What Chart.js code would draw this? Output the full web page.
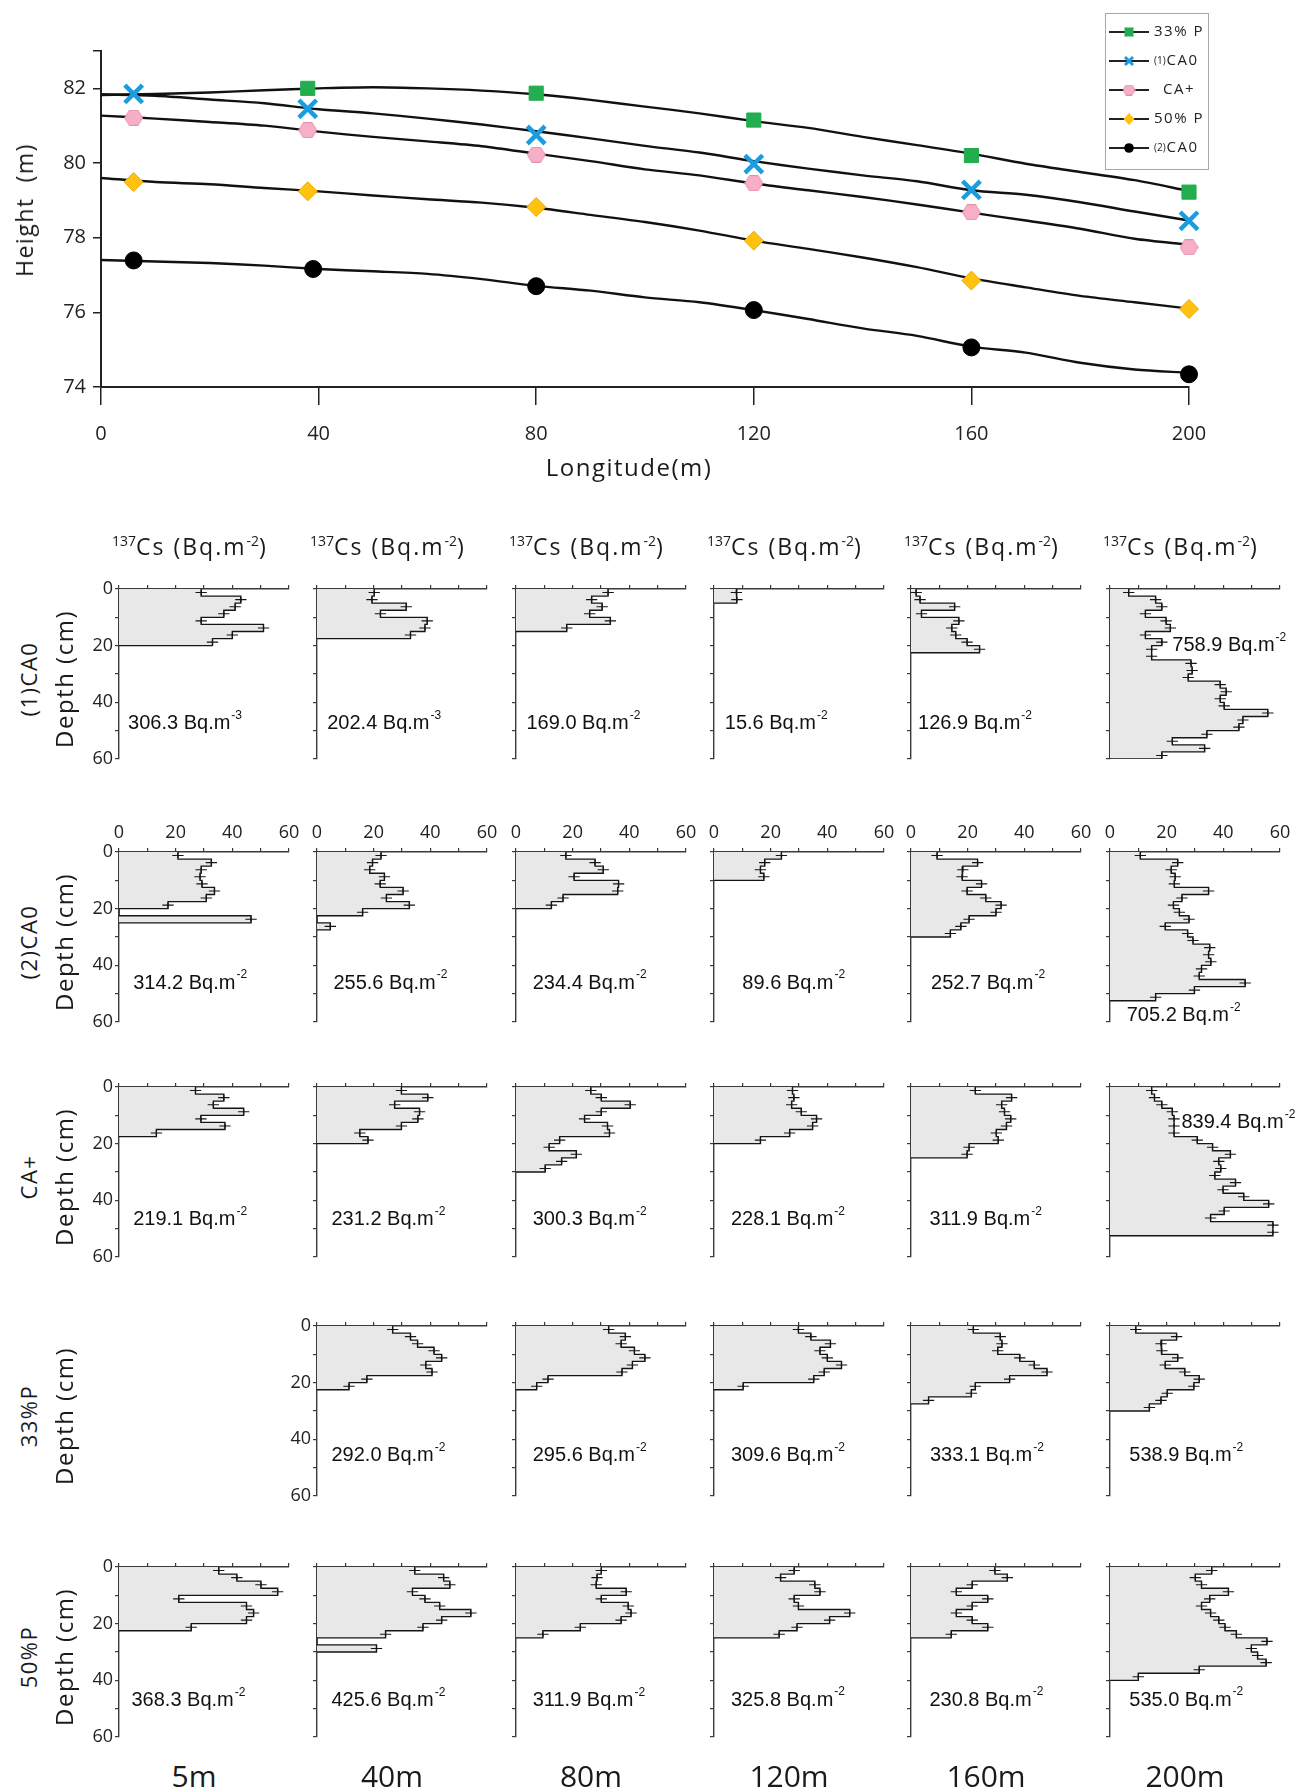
<!DOCTYPE html>
<html>
<head>
<meta charset="utf-8">
<title>137Cs depth profiles along the slope</title>
<script src="https://cdn.jsdelivr.net/npm/chart.js@4.4.1/dist/chart.umd.min.js"></script>
<style>
  html, body { margin: 0; padding: 0; background: #fff; overflow: hidden; }
  #page { position: relative; width: 1295px; height: 1792px; color: #1a1a1a; font-family: 'Open Sans', sans-serif; }
  #page canvas { position: absolute; }
  .lab { position: absolute; white-space: nowrap; transform: translate(-50%, -50%); }
  .rot { transform: translate(-50%, -50%) rotate(-90deg); }
  .hdr { position: absolute; white-space: nowrap; font-size: 23px; letter-spacing: 2px; line-height: 30px; }
  .sup { font-size: 14px; position: relative; top: -9px; letter-spacing: 0; }
</style>
</head>
<body>
<div id="page"></div>
<script>
// ---------- top panel: surface height along the slope ----------
const LONGITUDE = [0, 10, 20, 30, 40, 50, 60, 70, 80, 90, 100, 110, 120, 130, 140, 150, 160, 170, 180, 190, 200];
const SURF_33P   = [81.82, 81.85, 81.89, 81.95, 82.0, 82.03, 82.0, 81.94, 81.84, 81.69, 81.51, 81.33, 81.12, 80.94, 80.7, 80.48, 80.25, 79.98, 79.76, 79.54, 79.25];
const SURF_CA0_1 = [81.84, 81.8, 81.7, 81.6, 81.44, 81.33, 81.19, 81.03, 80.85, 80.66, 80.46, 80.28, 80.05, 79.85, 79.67, 79.51, 79.27, 79.15, 78.95, 78.7, 78.46];
const SURF_CAPLUS = [81.27, 81.19, 81.1, 81.0, 80.84, 80.7, 80.58, 80.45, 80.25, 80.05, 79.83, 79.67, 79.45, 79.27, 79.09, 78.89, 78.67, 78.46, 78.24, 77.97, 77.81];
const SURF_50P   = [79.6, 79.49, 79.43, 79.33, 79.24, 79.13, 79.03, 78.94, 78.8, 78.61, 78.42, 78.19, 77.92, 77.7, 77.47, 77.21, 76.91, 76.67, 76.44, 76.27, 76.1];
const SURF_CA0_2 = [77.4, 77.36, 77.32, 77.25, 77.16, 77.1, 77.03, 76.89, 76.71, 76.58, 76.4, 76.27, 76.06, 75.82, 75.57, 75.37, 75.08, 74.92, 74.65, 74.47, 74.38];

// sampling sites (markers)
const SITE_X_33P = [38, 80, 120, 160, 200];
const SITE_X     = [6, 38, 80, 120, 160, 200];
const HEIGHT_33P    = [82.0, 81.87, 81.15, 80.2, 79.22];
const HEIGHT_CA0_1  = [81.85, 81.45, 80.75, 79.97, 79.28, 78.45];
const HEIGHT_CAPLUS = [81.21, 80.88, 80.22, 79.46, 78.68, 77.74];
const HEIGHT_50P    = [79.49, 79.24, 78.82, 77.92, 76.85, 76.09];
const HEIGHT_CA0_2  = [77.39, 77.16, 76.7, 76.06, 75.06, 74.34];

// ---------- 137Cs depth profiles (Bq.m-2 per 2.5 cm layer) ----------
const SITES = ['5m', '40m', '80m', '120m', '160m', '200m'];
const TREATMENTS = ['(1)CA0', '(2)CA0', 'CA+', '33%P', '50%P'];
const LAYER = 2.5;   // cm
const ERR = 2;       // half width of the error bars

const CS_CA0_1 = [
  [29, 43, 41, 37, 29, 51, 40, 33],
  [20.2, 19.4, 31.5, 22.4, 38.9, 38.1, 33],
  [32.5, 26.7, 30.4, 26, 33.3, 17.9],
  [7.9, 8.1],
  [1.8, 3.2, 15.4, 3.7, 16.9, 14.4, 15.8, 19.8, 24.2],
  [6.6, 16.1, 18.3, 12.5, 19.8, 21.3, 12.5, 18.3, 14.7, 14.7, 28.6, 29, 27.6, 38.9, 41, 38.9, 40.3, 55.7, 46.9, 45.5, 34.2, 22, 33.4, 18.3]
];
const CS_CA0_2 = [
  [20.8, 32.6, 29, 28.6, 29.3, 33.7, 30.8, 17.3, 0, 46.6],
  [22.6, 19.6, 18.6, 23.8, 22.3, 30.4, 24.5, 32.6, 16.1, 0, 4.7],
  [17.6, 27.9, 30.8, 20.5, 36.2, 35.9, 16.6, 12.5],
  [23.8, 17.9, 16.4, 17.6],
  [9.2, 23.5, 18.3, 18, 24.9, 19.8, 26.4, 31.8, 30, 20.5, 17.6, 13.9],
  [10.7, 23.9, 21.6, 23, 22.7, 34.8, 25.4, 22.4, 24.5, 27.9, 19.5, 27.4, 29.3, 35.2, 34.8, 35.6, 32.3, 31.5, 47.7, 29.8, 16.1]
];
const CS_CAPLUS = [
  [27, 37, 33.3, 44, 28.9, 37.4, 13.2],
  [29.8, 39.1, 27.4, 36.2, 35.6, 29.8, 15.1, 18],
  [26.4, 30.1, 40.3, 30.1, 24.2, 32.3, 33, 15.4, 11.7, 21.3, 16.1, 10.3],
  [27.7, 28.2, 27.4, 30.8, 36.2, 34.8, 26.7, 16.4],
  [22.7, 35.5, 32, 33, 35.2, 33.7, 30.1, 30.8, 20.5, 19.8],
  [14.7, 15.7, 18.3, 22, 22.6, 22.6, 22.6, 30.8, 36.2, 42.5, 38.4, 39.1, 37, 44.3, 39.9, 47.2, 56, 40.3, 35.5, 57.5, 57.5]
];
const CS_33P = [
  null,
  [26.7, 33, 35.5, 41.3, 44, 38.4, 40.6, 17.6, 11.3],
  [32.7, 38.6, 37.1, 41.8, 45.5, 41.1, 37.4, 11.3, 7.3],
  [29.8, 34.2, 41.1, 37.4, 40, 45, 38.9, 35.2, 10.3],
  [22, 31.5, 32.1, 30.6, 38.4, 43.5, 48, 34.8, 22.7, 21.3, 6.2],
  [9.1, 23.5, 18, 18.3, 23.9, 19.5, 26.4, 31.5, 29.6, 20.2, 18, 13.9]
];
const CS_50P = [
  [35.2, 41.6, 50.1, 56, 21.1, 45, 47.5, 45, 25.5],
  [34.5, 44.7, 46.9, 33.7, 38.1, 43.3, 54.3, 44, 37.4, 24.2, 0, 21],
  [30.1, 28.6, 28.3, 38.9, 30.1, 39.6, 40.6, 37.1, 22.7, 9.5],
  [28.3, 23.5, 35.6, 37.4, 28.3, 29.8, 47.9, 40.8, 29.3, 23],
  [29.6, 34, 21.6, 16, 27.1, 21.6, 16, 21.6, 27.1, 14.2],
  [35.9, 30.1, 32.3, 41.8, 35.2, 32.3, 35.5, 38.4, 40.6, 44.6, 55.4, 49.9, 52.1, 55.1, 31.5, 10]
];

// total inventories written in each panel
const INV_CA0_1  = ['306.3', '202.4', '169.0', '15.6', '126.9', '758.9'];
const INV_CA0_2  = ['314.2', '255.6', '234.4', '89.6', '252.7', '705.2'];
const INV_CAPLUS = ['219.1', '231.2', '300.3', '228.1', '311.9', '839.4'];
const INV_33P    = [null, '292.0', '295.6', '309.6', '333.1', '538.9'];
const INV_50P    = ['368.3', '425.6', '311.9', '325.8', '230.8', '535.0'];
const INV_EXP_CA0_1 = ['-3', '-3', '-2', '-2', '-2', '-2'];

// ---------- layout ----------
const ROW_TOP = [589, 852, 1087, 1326, 1567];
const COL_X = [119, 317, 516, 714, 911, 1110];
const LABEL_AT = [
  [[3.2, 47.5], [3.6, 47.5], [3.7, 47.5], [3.8, 47.5], [2.5, 47.5], [22, 20]],
  [[5, 46.3], [5.8, 46.3], [5.9, 46.3], [10, 46.3], [7.1, 46.3], [5.9, 57.8]],
  [[5, 46.7], [5.1, 46.7], [5.9, 46.7], [6, 46.7], [6.5, 46.7], [25.2, 12.6]],
  [null, [5.1, 45.6], [5.9, 45.6], [6, 45.6], [6.7, 45.6], [6.8, 45.6]],
  [[4.4, 47.1], [5.1, 47.1], [5.9, 47.1], [6, 47], [6.5, 47], [6.8, 47]]
];
const FONT = "'Open Sans', sans-serif";

const page = document.getElementById('page');
function addCanvas(left, top, w, h) {
  const c = document.createElement('canvas');
  c.width = w; c.height = h;
  c.style.left = left + 'px'; c.style.top = top + 'px';
  c.style.width = w + 'px'; c.style.height = h + 'px';
  page.appendChild(c);
  return c;
}
function addText(html, x, y, cls, style) {
  const d = document.createElement('div');
  d.className = cls;
  d.innerHTML = html;
  d.style.left = x + 'px';
  d.style.top = y + 'px';
  if (style) Object.assign(d.style, style);
  page.appendChild(d);
}
const zeroPad = s => { s.paddingLeft = 0; s.paddingRight = 0; s.paddingTop = 0; s.paddingBottom = 0; };

// pink hexagon marker
function hexMarker(w, h) {
  const c = document.createElement('canvas');
  c.width = w; c.height = h;
  const g = c.getContext('2d');
  g.beginPath();
  g.moveTo(0.5, h / 2);
  g.lineTo(w * 0.27, 0.5);
  g.lineTo(w * 0.73, 0.5);
  g.lineTo(w - 0.5, h / 2);
  g.lineTo(w * 0.73, h - 0.5);
  g.lineTo(w * 0.27, h - 0.5);
  g.closePath();
  g.fillStyle = '#f7afc7';
  g.fill();
  g.strokeStyle = '#e48fae';
  g.lineWidth = 1;
  g.stroke();
  return c;
}

const SERIES = [
  { label: '33% P', pre: '', xs: SITE_X_33P, ys: HEIGHT_33P, line: SURF_33P, style: 'rect', radius: 10, fill: '#22ad4e', edge: '#22ad4e', bw: 1 },
  { label: 'CA0', pre: '(1)', xs: SITE_X, ys: HEIGHT_CA0_1, line: SURF_CA0_1, style: 'crossRot', radius: 12.5, fill: '#1a9ddf', edge: '#1a9ddf', bw: 4.5 },
  { label: 'CA+', pre: '', xs: SITE_X, ys: HEIGHT_CAPLUS, line: SURF_CAPLUS, style: hexMarker(19, 16), legendImg: hexMarker(13, 11), radius: 9, fill: '#f7afc7', edge: '#e48fae', bw: 1, dx: 9 },
  { label: '50% P', pre: '', xs: SITE_X, ys: HEIGHT_50P, line: SURF_50P, style: 'rectRot', radius: 9.5, fill: '#ffc20e', edge: '#e8a900', bw: 1 },
  { label: 'CA0', pre: '(2)', xs: [6, 39, 80, 120, 160, 200], ys: HEIGHT_CA0_2, line: SURF_CA0_2, style: 'circle', radius: 8.5, fill: '#000', edge: '#000', bw: 1 }
];

function drawLegendMarker(ctx, s, x, y) {
  ctx.fillStyle = s.fill;
  ctx.strokeStyle = s.edge;
  if (s.style === 'rect') {
    ctx.fillRect(x - 4.5, y - 4.5, 9, 9);
  } else if (s.style === 'crossRot') {
    ctx.lineWidth = 3;
    ctx.beginPath();
    ctx.moveTo(x - 4, y - 4); ctx.lineTo(x + 4, y + 4);
    ctx.moveTo(x + 4, y - 4); ctx.lineTo(x - 4, y + 4);
    ctx.stroke();
  } else if (s.style === 'rectRot') {
    ctx.beginPath();
    ctx.moveTo(x, y - 6); ctx.lineTo(x + 5.5, y); ctx.lineTo(x, y + 6); ctx.lineTo(x - 5.5, y);
    ctx.closePath(); ctx.fill();
  } else if (s.style === 'circle') {
    ctx.beginPath(); ctx.arc(x, y, 4.8, 0, Math.PI * 2); ctx.fill();
  } else {
    ctx.drawImage(s.legendImg, x - s.legendImg.width / 2, y - s.legendImg.height / 2);
  }
}

const boxLegend = {
  id: 'boxLegend',
  afterDraw(chart) {
    const ctx = chart.ctx;
    ctx.save();
    ctx.strokeStyle = '#a8a8a8';
    ctx.lineWidth = 1;
    ctx.strokeRect(1105.5, 13.5, 103, 156);
    SERIES.forEach((s, i) => {
      const y = 32 + i * 29;
      ctx.strokeStyle = '#222';
      ctx.lineWidth = 1.8;
      ctx.beginPath(); ctx.moveTo(1109, y); ctx.lineTo(1149, y); ctx.stroke();
      drawLegendMarker(ctx, s, 1129, y);
      ctx.fillStyle = '#222';
      ctx.textBaseline = 'middle';
      let x = 1154 + (s.dx || 0);
      if (s.pre) {
        ctx.font = "10px " + FONT;
        ctx.fillText(s.pre, x, y);
        x += ctx.measureText(s.pre).width + 1;
      }
      ctx.font = "15px " + FONT;
      ctx.letterSpacing = '1.5px';
      ctx.fillText(s.label, x, y);
      ctx.letterSpacing = '0px';
    });
    ctx.restore();
  }
};

new Chart(addCanvas(0, 0, 1295, 480), {
  type: 'line',
  data: {
    datasets: [
      ...SERIES.map(s => ({
        label: s.pre + s.label,
        data: s.xs.map((x, i) => ({ x, y: s.ys[i] })),
        showLine: false,
        pointStyle: s.style,
        pointRadius: s.radius,
        pointBorderWidth: s.bw,
        backgroundColor: s.fill,
        borderColor: s.edge,
        order: 1,
        clip: false
      })),
      ...SERIES.map(s => ({
        data: LONGITUDE.map((x, i) => ({ x, y: s.line[i] })),
        borderColor: '#111',
        borderWidth: 2.4,
        pointRadius: 0,
        tension: 0.3,
        fill: false,
        order: 2,
        clip: false
      }))
    ]
  },
  options: {
    responsive: false,
    animation: false,
    events: [],
    layout: { padding: { top: 51, right: 106, bottom: 23, left: 0 }, autoPadding: false },
    plugins: { legend: { display: false }, tooltip: { enabled: false } },
    scales: {
      x: {
        type: 'linear', min: 0, max: 200,
        ticks: { stepSize: 40, autoSkip: false, padding: 17, color: '#222', font: { family: FONT, size: 20 } },
        grid: { drawOnChartArea: false, tickLength: 18, color: '#222', lineWidth: 1.5 },
        border: { color: '#222', width: 2 },
        afterFit: s => { s.height = 70; zeroPad(s); }
      },
      y: {
        type: 'linear', min: 74, max: 83,
        ticks: { stepSize: 2, autoSkip: false, padding: 7, color: '#222', font: { family: FONT, size: 20 },
                 callback: v => (v === 83 ? '' : v) },
        grid: { drawOnChartArea: false, tickLength: 8, color: '#222', lineWidth: 1.5 },
        border: { color: '#222', width: 2 },
        afterFit: s => { s.width = 101; zeroPad(s); }
      }
    }
  },
  plugins: [boxLegend]
});

addText('Height&nbsp;&nbsp;(m)', 24, 210, 'lab rot', { fontSize: '23px', letterSpacing: '1.5px' });
addText('Longitude(m)', 629, 466, 'lab', { fontSize: '24px', letterSpacing: '1.5px' });

// ---------- depth profile panels ----------
function stepPoints(vals) {
  const pts = [];
  vals.forEach((v, i) => {
    pts.push({ x: v, y: i * LAYER });
    pts.push({ x: v, y: (i + 1) * LAYER });
  });
  pts.push({ x: 0, y: vals.length * LAYER });
  return pts;
}
function errorPoints(vals) {
  const pts = [];
  vals.forEach((v, i) => {
    if (!v) return;
    const m = (i + 0.5) * LAYER;
    pts.push({ x: v - ERR, y: m }, { x: v + ERR, y: m }, { x: null, y: null });
    pts.push({ x: v, y: m - 0.9 }, { x: v, y: m + 0.9 }, { x: null, y: null });
  });
  return pts;
}

const invLabel = {
  id: 'invLabel',
  afterDatasetsDraw(chart, args, opts) {
    if (!opts.text) return;
    const { x, y } = chart.scales;
    const px = x.getPixelForValue(opts.at[0]);
    const py = y.getPixelForValue(opts.at[1]);
    const ctx = chart.ctx;
    ctx.save();
    ctx.fillStyle = '#111';
    ctx.textBaseline = 'middle';
    ctx.font = "20px 'Liberation Sans', Arial, sans-serif";
    const main = opts.text + ' Bq.m';
    ctx.fillText(main, px, py);
    const w = ctx.measureText(main).width;
    ctx.font = "12px 'Liberation Sans', Arial, sans-serif";
    ctx.fillText(opts.exp, px + w + 1, py - 8);
    ctx.restore();
  }
};

const PROFILES = [CS_CA0_1, CS_CA0_2, CS_CAPLUS, CS_33P, CS_50P];
const INVENTORIES = [INV_CA0_1, INV_CA0_2, INV_CAPLUS, INV_33P, INV_50P];
const AXIS_COLOR = '#3a3a3a';

PROFILES.forEach((row, r) => {
  row.forEach((vals, c) => {
    if (!vals) return;
    const showY = c === 0 || (r === 3 && c === 1);
    const showX = r === 1;
    new Chart(addCanvas(COL_X[c] - 50, ROW_TOP[r] - 36, 250, 216), {
      type: 'line',
      data: {
        datasets: [
          { data: stepPoints(vals), borderColor: '#151515', borderWidth: 1.4, backgroundColor: '#e8e8e8',
            fill: 'origin', pointRadius: 0, tension: 0, order: 2 },
          { data: errorPoints(vals), borderColor: '#151515', borderWidth: 1.1, pointRadius: 0,
            fill: false, tension: 0, order: 1 }
        ]
      },
      options: {
        indexAxis: 'y',
        responsive: false,
        animation: false,
        events: [],
        layout: { padding: { top: 0, left: 0, right: 30, bottom: 10 }, autoPadding: false },
        plugins: {
          legend: { display: false },
          tooltip: { enabled: false },
          invLabel: {
            text: INVENTORIES[r][c],
            exp: r === 0 ? INV_EXP_CA0_1[c] : '-2',
            at: LABEL_AT[r][c]
          }
        },
        scales: {
          x: {
            type: 'linear', position: 'top', min: 0, max: 60,
            ticks: { stepSize: 10, autoSkip: false, maxRotation: 0, padding: 4, color: '#222',
                     font: { family: FONT, size: 18 },
                     callback: v => (showX && v % 20 === 0 ? v : '') },
            grid: { drawOnChartArea: false, tickLength: 4, color: AXIS_COLOR, lineWidth: 1.2 },
            border: { color: AXIS_COLOR, width: 1.4 },
            afterFit: s => { s.height = 36; zeroPad(s); }
          },
          y: {
            type: 'linear', reverse: true, min: 0, max: 60,
            ticks: { stepSize: 10, autoSkip: false, padding: 2, color: '#222',
                     font: { family: FONT, size: 18 },
                     callback: v => (showY && v % 20 === 0 ? v : '') },
            grid: { drawOnChartArea: false, tickLength: 4, color: AXIS_COLOR, lineWidth: 1.2 },
            border: { color: AXIS_COLOR, width: 1.4 },
            afterFit: s => { s.width = 50; zeroPad(s); }
          }
        }
      },
      plugins: [invLabel]
    });
  });
});

// column headers, row titles, site labels
COL_X.forEach((x, c) => {
  addText('<span class="sup">137</span>Cs (Bq.m<span class="sup">-2</span>)', x - 7, 531, 'hdr');
  addText(SITES[c], x + 75, 1775, 'lab', { fontSize: '30px' });
});
TREATMENTS.forEach((t, r) => {
  const yc = ROW_TOP[r] + 90;
  addText(t, 28, yc, 'lab rot', { fontSize: '22px', letterSpacing: '1.5px' });
  addText('Depth (cm)', 63, yc, 'lab rot', { fontSize: '24px', letterSpacing: '1.5px' });
});
</script>
</body>
</html>
